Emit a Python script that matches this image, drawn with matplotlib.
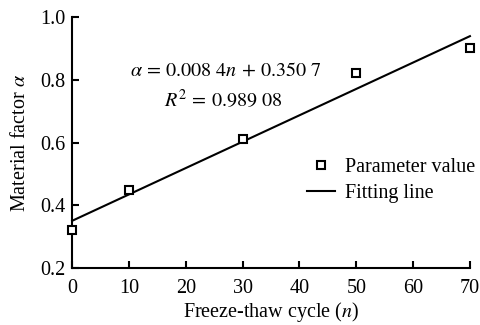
import numpy as np
import matplotlib
matplotlib.use("Agg")
import matplotlib.pyplot as plt

# freeze-thaw cycles and material factor
cycles = [0, 10, 30, 50, 70]
alpha_vals = [0.32, 0.45, 0.61, 0.82, 0.90]
slope = 0.0084
intercept = 0.3507
x_ticks = [0, 10, 20, 30, 40, 50, 60, 70]
y_ticks = [0.2, 0.4, 0.6, 0.8, 1.0]

plt.rcParams['font.family'] = ['Liberation Serif', 'DejaVu Serif']
plt.rcParams['mathtext.fontset'] = 'stix'

fig = plt.figure(figsize=(4.81, 3.25), dpi=100)
ax = fig.add_axes([0.150, 0.175, 0.827, 0.773])

fit_x = np.array([cycles[0], cycles[-1]])
ax.plot(cycles, alpha_vals, 's', ms=6, mfc='white', mec='black', mew=1.5,
        label='Parameter value', zorder=3, clip_on=False)
ax.plot(fit_x, slope * fit_x + intercept, '-', color='black', lw=1.5,
        label='Fitting line', clip_on=False)

ax.set_xlim(0, 70)
ax.set_ylim(0.2, 1.0)
ax.set_xticks(x_ticks)
ax.set_yticks(y_ticks)
ax.set_yticklabels(['%.1f' % v for v in y_ticks])
ax.tick_params(direction='in', length=5, width=1.5, labelsize=14.5, pad=5)
ax.tick_params(axis='x', pad=8)
ax.spines['top'].set_visible(False)
ax.spines['right'].set_visible(False)
for s in ['left', 'bottom']:
    ax.spines[s].set_linewidth(1.5)

ax.set_xlabel('Freeze-thaw cycle ($n$)', fontsize=14.5, labelpad=1)
ax.set_ylabel(r'Material factor $\alpha$', fontsize=14.5, labelpad=7)

ax.text(0.145, 0.765, r'$\alpha\,=\,0.008\ 4n\,+\,0.350\ 7$', transform=ax.transAxes,
        fontsize=14.5)
ax.text(0.232, 0.64, r'$R^2\,=\,0.989\ 08$', transform=ax.transAxes, fontsize=14.5)

ax.legend(loc='upper left', bbox_to_anchor=(0.638, 0.515), bbox_transform=fig.transFigure,
          frameon=False, fontsize=14.5, handlelength=1.4, handletextpad=0.5,
          labelspacing=0.35, borderaxespad=0, borderpad=0)

fig.savefig('out.png', dpi=100)
